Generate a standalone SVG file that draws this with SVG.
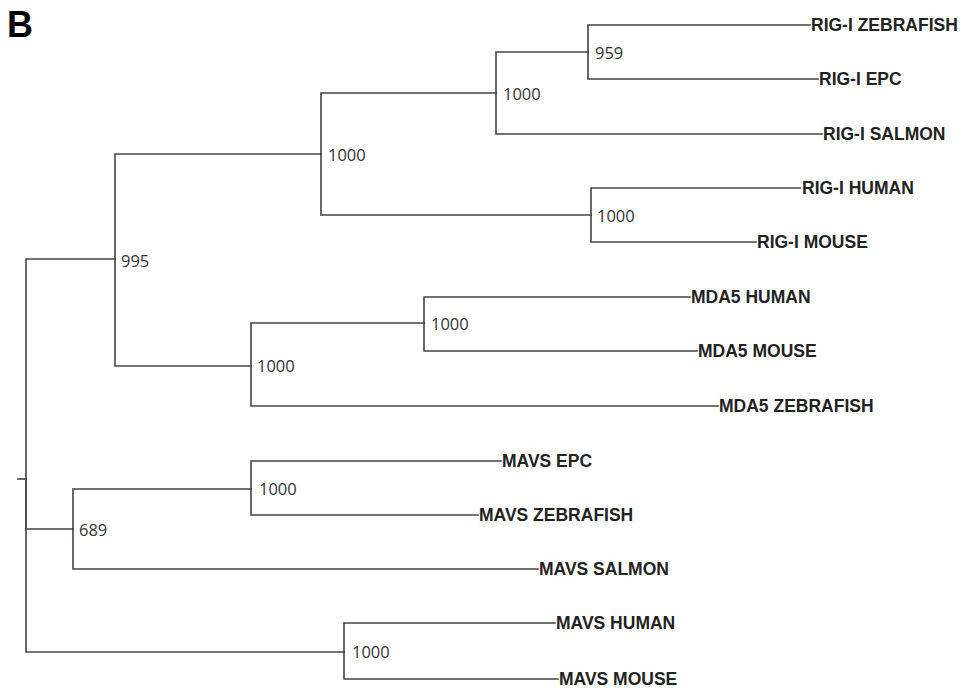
<svg xmlns="http://www.w3.org/2000/svg" width="960" height="688" viewBox="0 0 960 688">
<style>
.e{fill:none;stroke:#444;stroke-width:1.6;stroke-linecap:square}
.leaf{font-family:"Liberation Sans",Arial,sans-serif;font-weight:bold;font-size:17.5px;fill:#222}
.sup{font-family:"Open Sans","DejaVu Sans",sans-serif;font-size:16.5px;fill:#333}
</style>
<rect width="960" height="688" fill="#fff"/>
<text x="7" y="37" font-family="Liberation Sans,Arial,sans-serif" font-weight="bold" font-size="36" fill="#000">B</text>
<g id="connectors">
<path class="e" d="M18 479 H26"/>
<path class="e" d="M26 479 V259 H115"/>
<path class="e" d="M26 479 V529 H73"/>
<path class="e" d="M26 479 V652 H344"/>
<path class="e" d="M115 259 V154 H321"/>
<path class="e" d="M115 259 V366 H251"/>
<path class="e" d="M321 154 V93 H496"/>
<path class="e" d="M321 154 V215 H591"/>
<path class="e" d="M496 93 V52 H588"/>
<path class="e" d="M496 93 V134 H822"/>
<path class="e" d="M588 52 V25 H810"/>
<path class="e" d="M588 52 V79 H818"/>
<path class="e" d="M591 215 V188 H800"/>
<path class="e" d="M591 215 V242 H756"/>
<path class="e" d="M251 366 V323 H424"/>
<path class="e" d="M251 366 V406 H718"/>
<path class="e" d="M424 323 V297 H690"/>
<path class="e" d="M424 323 V351 H697"/>
<path class="e" d="M73 529 V489 H251"/>
<path class="e" d="M73 529 V569 H538"/>
<path class="e" d="M251 489 V461 H501"/>
<path class="e" d="M251 489 V515 H478"/>
<path class="e" d="M344 652 V623 H555"/>
<path class="e" d="M344 652 V679 H558"/>
</g>
<g id="n995"><text class="sup" x="121" y="267">995</text></g>
<g id="nRIG"><text class="sup" x="328" y="161">1000</text></g>
<g id="nRIGfish"><text class="sup" x="503" y="100">1000</text></g>
<g id="n959"><text class="sup" x="595" y="59">959</text></g>
<g id="nRIGmam"><text class="sup" x="597" y="222">1000</text></g>
<g id="nMDA"><text class="sup" x="257" y="372">1000</text></g>
<g id="nMDAmam"><text class="sup" x="431" y="330">1000</text></g>
<g id="n689"><text class="sup" x="79" y="536">689</text></g>
<g id="nMAVSfish"><text class="sup" x="259" y="495">1000</text></g>
<g id="nMAVSmam"><text class="sup" x="352" y="658">1000</text></g>
<g id="rigi-zebrafish"><text class="leaf" x="811" y="31">RIG-I ZEBRAFISH</text></g>
<g id="rigi-epc"><text class="leaf" x="819" y="85">RIG-I EPC</text></g>
<g id="rigi-salmon"><text class="leaf" x="823" y="140">RIG-I SALMON</text></g>
<g id="rigi-human"><text class="leaf" x="802" y="194">RIG-I HUMAN</text></g>
<g id="rigi-mouse"><text class="leaf" x="757" y="248">RIG-I MOUSE</text></g>
<g id="mda5-human"><text class="leaf" x="691" y="303">MDA5 HUMAN</text></g>
<g id="mda5-mouse"><text class="leaf" x="698" y="357">MDA5 MOUSE</text></g>
<g id="mda5-zebrafish"><text class="leaf" x="719" y="412">MDA5 ZEBRAFISH</text></g>
<g id="mavs-epc"><text class="leaf" x="502" y="467">MAVS EPC</text></g>
<g id="mavs-zebrafish"><text class="leaf" x="479" y="521">MAVS ZEBRAFISH</text></g>
<g id="mavs-salmon"><text class="leaf" x="539" y="575">MAVS SALMON</text></g>
<g id="mavs-human"><text class="leaf" x="556" y="629">MAVS HUMAN</text></g>
<g id="mavs-mouse"><text class="leaf" x="559" y="685">MAVS MOUSE</text></g>
</svg>
